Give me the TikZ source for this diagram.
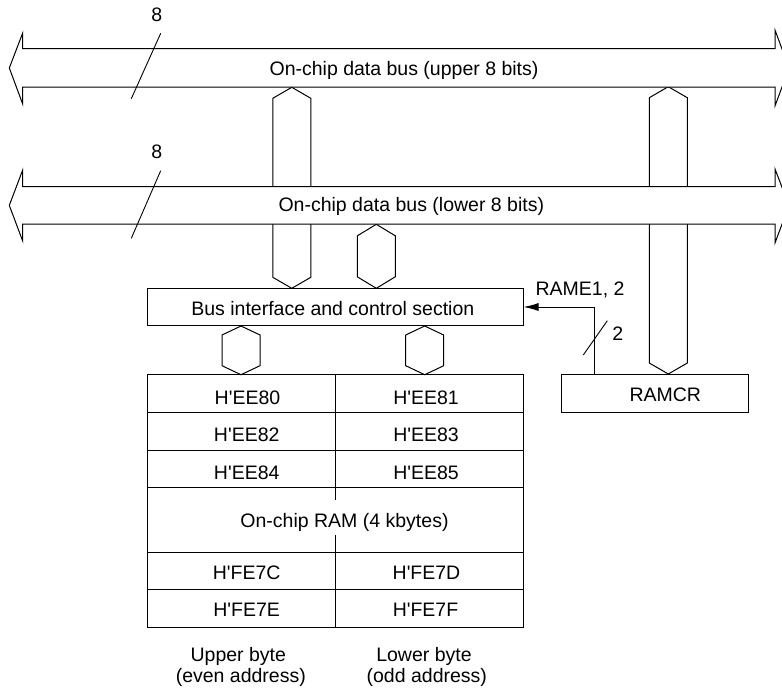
\documentclass[tikz,border=0pt]{standalone}
\usepackage{fontspec}
\setmainfont{Liberation Sans}
\usetikzlibrary{arrows.meta}
\newcommand\hexv[4]{\draw[hexbus] (#1,#2) -- (#1+19,#2+#4) -- (#1+19,#3-#4) -- (#1,#3) -- (#1-19,#3-#4) -- (#1-19,#2+#4) -- cycle;}
\newcommand\sq{\textquotesingle}
\begin{document}
\begin{tikzpicture}[x=1pt,y=-1pt, line width=1pt, line join=miter,
  box/.style={draw, fill=white, inner sep=0pt},
  lbl/.style={anchor=base, inner sep=0pt, font=\fontsize{19.5}{23}\selectfont},
  busshape/.style={draw, fill=white},
  hexbus/.style={draw, fill=white},
  thin line/.style={line width=0.9pt}]
\useasboundingbox (0,0) rectangle (782,689);
\clip (0,0) rectangle (782,689);

% vertical hexagonal buses
\hexv{291.8}{87.3}{288.3}{11}
\hexv{376.3}{224.3}{288.3}{11.5}
\hexv{668.3}{86.7}{374}{11}
\hexv{241}{326}{374.7}{9}
\hexv{424.7}{326}{374.7}{9}

% on-chip data buses
\draw[busshape] (9.3,68) -- (22.7,33) -- (22.7,48.5) -- (775,48.5) -- (775,30)
  -- (789,68) -- (775,106) -- (775,87) -- (22.7,87) -- (22.7,104) -- cycle;
\draw[busshape] (9.3,205.4) -- (22.7,170) -- (22.7,186.5) -- (775,186.5) -- (775,169)
  -- (789,205.4) -- (775,243) -- (775,224.2) -- (22.7,224.2) -- (22.7,241) -- cycle;
\node[lbl] (ubus) at (404,75) {On-chip data bus (upper 8 bits)};
\node[lbl] (lbus) at (411.3,211.7) {On-chip data bus (lower 8 bits)};

% bus width marks
\draw[thin line] (160.7,33.3) -- (131.3,98.7);
\node[lbl] (w8a) at (156.7,21.7) {8};
\draw[thin line] (160.7,170.7) -- (131.3,238.3);
\node[lbl] (w8b) at (156.7,158.3) {8};

% bus interface and control section
\node[box, minimum width=376pt, minimum height=37.4pt] (bif) at (335,307) {};
\node[lbl] (biflbl) at (332.8,315) {Bus interface and control section};

% RAMCR
\node[box, minimum width=187pt, minimum height=38pt] (ramcr) at (654.5,393) {};
\node[lbl] (ramcrlbl) at (665.3,401) {RAMCR};
\coordinate (rtap) at ([xshift=33.7pt]ramcr.north west);
\draw[-{Latex[length=15pt,width=8pt]}] (rtap) |- (bif.east);
\draw[thin line] (583.3,355) -- (607.3,320.7);
\node[lbl] (ramelbl) at (580,295) {RAME1, 2};
\node[lbl] (two) at (617.7,340.7) {2};

% RAM table
\draw (147,374.7) rectangle (523,627);
\foreach \yy in {412.3,450,487.7,552,589.7} \draw (147,\yy) -- (523,\yy);
\draw (335,374.7) -- (335,500);
\draw (335,535) -- (335,627);
\node[lbl] (a0) at (247.5,404) {H\sq EE80};
\node[lbl] (a1) at (426,404) {H\sq EE81};
\node[lbl] (a2) at (246.7,441.7) {H\sq EE82};
\node[lbl] (a3) at (426,441.7) {H\sq EE83};
\node[lbl] (a4) at (246.7,479.3) {H\sq EE84};
\node[lbl] (a5) at (426,479.3) {H\sq EE85};
\node[lbl] (ram) at (344.5,527.7) {On-chip RAM (4 kbytes)};
\node[lbl] (a6) at (246.7,579) {H\sq FE7C};
\node[lbl] (a7) at (426.5,579) {H\sq FE7D};
\node[lbl] (a8) at (246.7,616) {H\sq FE7E};
\node[lbl] (a9) at (425.5,616) {H\sq FE7F};

% column captions
\node[lbl] (ub) at (238.3,661) {Upper byte};
\node[lbl] (ea) at (240.8,682.5) {(even address)};
\node[lbl] (lb) at (424,661) {Lower byte};
\node[lbl] (oa) at (426.8,682.5) {(odd address)};
\end{tikzpicture}
\end{document}
